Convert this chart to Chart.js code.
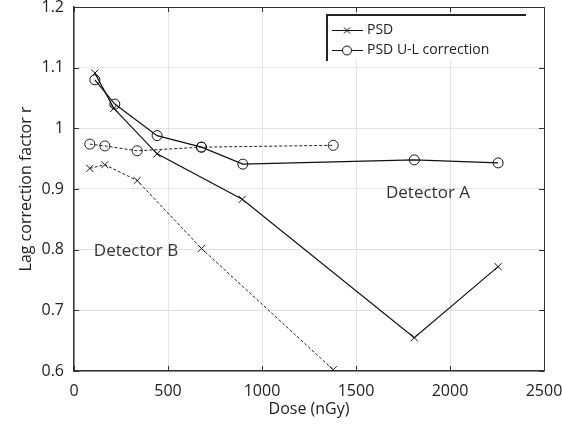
<!DOCTYPE html>
<html>
<head>
<meta charset="utf-8">
<script src="https://cdn.jsdelivr.net/npm/chart.js@4.4.1/dist/chart.umd.min.js"></script>
<style>
  html, body { margin: 0; padding: 0; background: #fff; }
  #wrap { width: 562px; height: 432px; }
</style>
</head>
<body>
<div id="wrap"><canvas id="lagChart" width="562" height="432"></canvas></div>
<script>
// tick labels
var xTicks = [0, 500, 1000, 1500, 2000, 2500];
var yTicks = [0.6, 0.7, 0.8, 0.9, 1, 1.1, 1.2];

// Detector A
var doseA_psd = [111, 212, 442, 895, 1810, 2256];
var lagA_psd  = [1.091, 1.033, 0.958, 0.883, 0.655, 0.772];
var doseA_ul  = [111, 217, 442, 678, 898, 1810, 2256];
var lagA_ul   = [1.080, 1.040, 0.988, 0.969, 0.941, 0.948, 0.943];

// Detector B
var doseB_psd = [84, 164, 336, 678, 1379];
var lagB_psd  = [0.934, 0.940, 0.914, 0.802, 0.602];
var doseB_ul  = [84, 164, 336, 678, 1379];
var lagB_ul   = [0.974, 0.971, 0.963, 0.969, 0.972];

function pts(xs, ys) {
    return xs.map(function (x, i) { return {x: x, y: ys[i]}; });
}

var FONT = "'Open Sans', sans-serif";

// MATLAB style box, inner ticks, legend and labels
var decor = {
    id: 'decor',
    afterDraw: function (chart) {
        var ctx = chart.ctx;
        var a = chart.chartArea;
        var xs = chart.scales.x, ys = chart.scales.y;
        ctx.save();
        ctx.strokeStyle = '#333';
        ctx.lineWidth = 1;
        ctx.beginPath();
        ctx.moveTo(a.left, a.top + 0.5);
        ctx.lineTo(a.right + 0.5, a.top + 0.5);
        ctx.lineTo(a.right + 0.5, a.bottom);
        ctx.stroke();
        // inner ticks
        ctx.beginPath();
        xTicks.forEach(function (t) {
            var px = Math.round(xs.getPixelForValue(t)) + 0.5;
            ctx.moveTo(px, a.bottom); ctx.lineTo(px, a.bottom - 5);
            ctx.moveTo(px, a.top); ctx.lineTo(px, a.top + 5);
        });
        yTicks.forEach(function (t) {
            var py = Math.round(ys.getPixelForValue(t)) + 0.5;
            ctx.moveTo(a.left, py); ctx.lineTo(a.left + 5, py);
            ctx.moveTo(a.right, py); ctx.lineTo(a.right - 5, py);
        });
        ctx.stroke();

        // legend
        var lx = 327, ly = 15, lw = 199, lh = 46;
        ctx.fillStyle = '#fff';
        ctx.fillRect(lx, ly, lw, lh);
        ctx.strokeStyle = '#222';
        ctx.lineWidth = 2;
        ctx.beginPath();
        ctx.moveTo(lx, ly + lh); ctx.lineTo(lx, ly); ctx.lineTo(lx + lw, ly);
        ctx.stroke();
        ctx.lineWidth = 1;
        ctx.strokeStyle = '#111';
        ctx.beginPath();
        ctx.moveTo(332, 30.5); ctx.lineTo(363, 30.5);
        ctx.moveTo(332, 50.5); ctx.lineTo(363, 50.5);
        ctx.stroke();
        ctx.beginPath();
        ctx.moveTo(344, 27.5); ctx.lineTo(350, 33.5);
        ctx.moveTo(350, 27.5); ctx.lineTo(344, 33.5);
        ctx.stroke();
        ctx.beginPath();
        ctx.arc(347, 50.5, 4.5, 0, Math.PI * 2);
        ctx.fillStyle = '#fff';
        ctx.fill();
        ctx.stroke();
        ctx.fillStyle = '#222';
        ctx.font = '14px ' + FONT;
        ctx.textBaseline = 'middle';
        ctx.textAlign = 'left';
        ctx.fillText('PSD', 367, 30);
        ctx.fillText('PSD U-L correction', 367, 50);

        // annotations
        ctx.font = '17px ' + FONT;
        ctx.textAlign = 'center';
        ctx.fillStyle = '#333';
        ctx.fillText('Detector A', 428, 193);
        ctx.fillText('Detector B', 136, 251);
        ctx.restore();
    }
};

var ctx1 = document.getElementById('lagChart').getContext('2d');
var lagChart = new Chart(ctx1, {
    type: 'scatter',
    data: {
        datasets: [{
            label: 'PSD',
            data: pts(doseA_psd, lagA_psd),
            showLine: true,
            borderColor: '#111',
            borderWidth: 1.2,
            pointStyle: 'crossRot',
            pointRadius: 5,
            pointBorderWidth: 1,
            pointBorderColor: '#111'
        }, {
            label: 'PSD U-L correction',
            data: pts(doseA_ul, lagA_ul),
            showLine: true,
            borderColor: '#111',
            borderWidth: 1.2,
            pointStyle: 'circle',
            pointRadius: 5,
            pointBorderWidth: 1,
            pointBorderColor: '#111',
            pointBackgroundColor: 'rgba(255,255,255,0)'
        }, {
            label: 'PSD B',
            data: pts(doseB_psd, lagB_psd),
            showLine: true,
            borderColor: '#222',
            borderWidth: 1,
            borderDash: [3, 2],
            pointStyle: 'crossRot',
            pointRadius: 5,
            pointBorderWidth: 1,
            pointBorderColor: '#222'
        }, {
            label: 'PSD U-L B',
            data: pts(doseB_ul, lagB_ul),
            showLine: true,
            borderColor: '#222',
            borderWidth: 1,
            borderDash: [3, 2],
            pointStyle: 'circle',
            pointRadius: 5,
            pointBorderWidth: 1,
            pointBorderColor: '#222',
            pointBackgroundColor: 'rgba(255,255,255,0)'
        }]
    },
    options: {
        responsive: false,
        animation: false,
        layout: { padding: { left: 0, right: 18, top: 7, bottom: 0 } },
        plugins: {
            legend: { display: false },
            tooltip: { enabled: false }
        },
        scales: {
            x: {
                type: 'linear',
                min: 0, max: 2500,
                afterBuildTicks: function (s) { s.ticks = xTicks.map(function (v) { return {value: v}; }); },
                afterFit: function (s) { s.height = 61; s.paddingLeft = 0; s.paddingRight = 0; },
                grid: { color: '#e3e3e3', drawTicks: false },
                border: { color: '#333', width: 1.5 },
                ticks: {
                    padding: 11,
                    color: '#222',
                    font: { family: FONT, size: 16 },
                    callback: function (v) { return String(v); }
                },
                title: {
                    display: true,
                    text: 'Dose (nGy)',
                    color: '#222',
                    font: { family: FONT, size: 16 },
                    padding: { top: 0, bottom: 13 }
                }
            },
            y: {
                type: 'linear',
                min: 0.6, max: 1.2,
                afterBuildTicks: function (s) { s.ticks = yTicks.map(function (v) { return {value: v}; }); },
                afterFit: function (s) { s.width = 74; s.paddingTop = 0; s.paddingBottom = 0; },
                grid: { color: '#e3e3e3', drawTicks: false },
                border: { color: '#333', width: 1.5 },
                ticks: {
                    padding: 10,
                    color: '#222',
                    font: { family: FONT, size: 16 },
                    callback: function (v) { return String(Math.round(v * 10) / 10); }
                },
                title: {
                    display: true,
                    text: 'Lag correction factor r',
                    color: '#222',
                    font: { family: FONT, size: 16 },
                    padding: { top: 17, bottom: 0 }
                }
            }
        }
    },
    plugins: [decor]
});
</script>
</body>
</html>
